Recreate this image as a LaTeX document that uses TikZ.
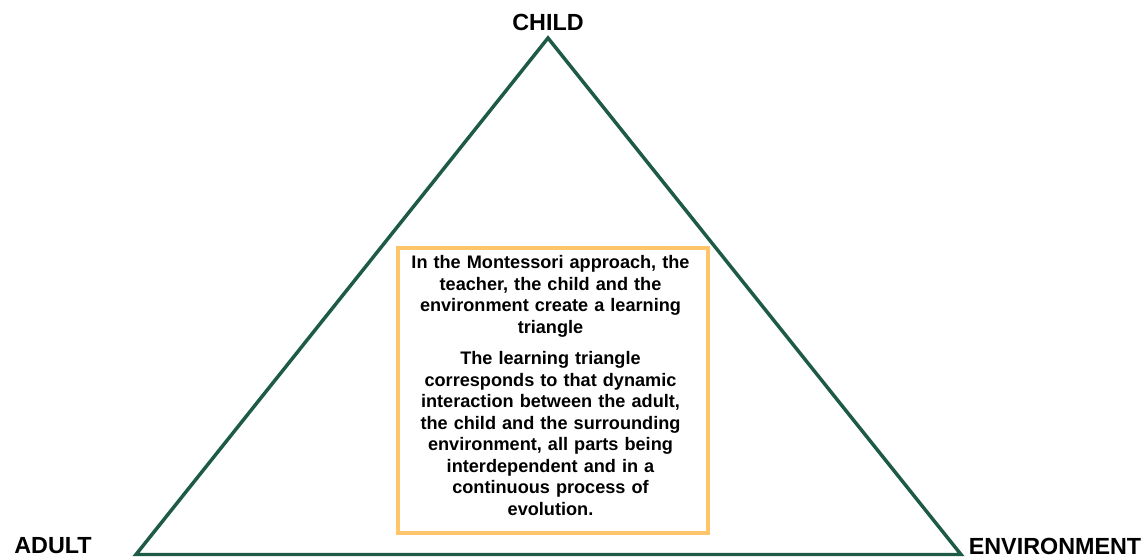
\documentclass[tikz,border=0pt]{standalone}
\usepackage{fontspec}
\setmainfont{Liberation Sans}
\usetikzlibrary{calc}
\definecolor{tgreen}{HTML}{1E5B45}
\definecolor{borange}{HTML}{FFC56B}
\tikzset{
  vlabel/.style={font=\fontsize{17.5}{20}\selectfont\bfseries, inner sep=0pt},
  side/.style={draw=tgreen, line width=2.6pt, line join=miter},
  infobox/.style={draw=borange, line width=3.3pt, inner sep=0pt, anchor=north west},
  infotext/.style={font=\fontsize{13.6}{16.1}\selectfont\bfseries, align=center, inner sep=0pt, text width=230pt}
}
\begin{document}
\begin{tikzpicture}[x=0.75pt, y=-0.75pt]
\useasboundingbox (0,0) rectangle (1146,557);
\coordinate (apex) at (548,38);
\coordinate (bl) at (136,554.5);
\coordinate (br) at (961,554.5);
\draw[side] (apex) -- (bl) -- (br) -- cycle;
\node[vlabel] (child) at (548,22) {CHILD};
\node[vlabel] (adult) at (53,546) {ADULT};
\node[vlabel] (env) at (1055,546) {ENVIRONMENT};
\node[infobox, minimum width=232.5pt, minimum height=213.8pt] (box) at (395.5,246) {};
\node[infotext, anchor=north] (txt) at (550.5,255.5) {In the Montessori approach, the\\ teacher, the child and the\\ environment create a learning\\ triangle\\[7.5pt]
The learning triangle\\ corresponds to that dynamic\\ interaction between the adult,\\ the child and the surrounding\\ environment, all parts being\\ interdependent and in a\\ continuous process of\\ evolution.};
\end{tikzpicture}
\end{document}
